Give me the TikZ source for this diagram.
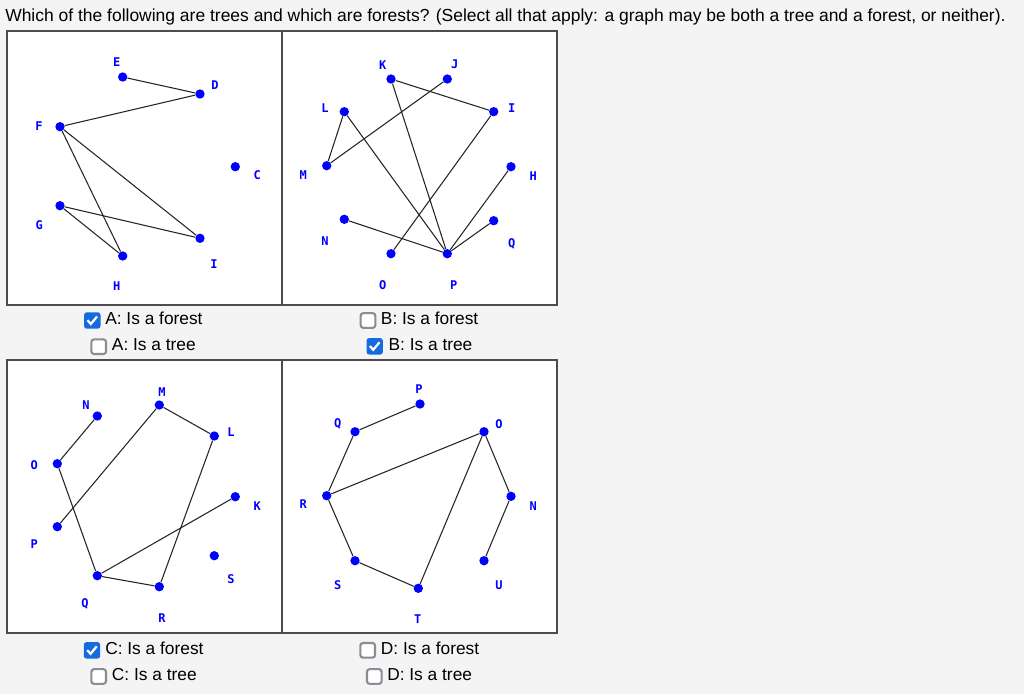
\documentclass[tikz,border=0pt]{standalone}
\usepackage{fontspec}
\setmainfont{Liberation Sans}
\newfontfamily\lblfont{DejaVu Sans Mono}
\definecolor{bg}{RGB}{244,244,244}
\definecolor{cbblue}{RGB}{22,106,224}
\definecolor{cbgray}{RGB}{140,140,150}
\begin{document}
\begin{tikzpicture}[x=0.75pt,y=-0.75pt,
  dot/.style={circle,fill=blue,inner sep=0pt,minimum size=7pt},
  lbl/.style={text=blue,font=\lblfont\bfseries\fontsize{9}{10}\selectfont,inner sep=0pt},
  edge/.style={draw=black!85,line width=0.8pt},
  panel/.style={draw=black!70,line width=1.3pt,fill=white},
  cbon/.style={rectangle,rounded corners=2pt,fill=cbblue,minimum size=12.3pt,inner sep=0pt},
  cboff/.style={rectangle,rounded corners=2pt,fill=white,draw=cbgray,line width=1.6pt,minimum size=11pt,inner sep=0pt},
  tick/.style={draw=white,line width=1.7pt},
  cbtext/.style={anchor=base west,inner sep=0pt,font=\fontsize{13}{15}\selectfont},
]
\fill[bg] (0,0) rectangle (1024,694);
\useasboundingbox (0,0) rectangle (1024,694);

\node[anchor=base west,inner sep=0pt,font=\fontsize{13.1}{15}\selectfont] (title) at (5,21)
  {Which of the following are trees and which are forests? (Select all that apply: a graph may be both a tree and a forest, or neither).};

% panels
\node[panel,minimum width=275*0.75pt,minimum height=274*0.75pt,inner sep=0pt,anchor=north west] (pA) at (6,30) {};
\node[panel,minimum width=275*0.75pt,minimum height=274*0.75pt,inner sep=0pt,anchor=north west] (pB) at (281,30) {};
\node[panel,minimum width=275*0.75pt,minimum height=273*0.75pt,inner sep=0pt,anchor=north west] (pC) at (6,359) {};
\node[panel,minimum width=275*0.75pt,minimum height=273*0.75pt,inner sep=0pt,anchor=north west] (pD) at (281,359) {};

% ---------- Panel A ----------
\node[dot] (aE) at (122.7,77) {};
\node[dot] (aD) at (200,94) {};
\node[dot] (aF) at (60,126.7) {};
\node[dot] (aC) at (235.3,166.7) {};
\node[dot] (aG) at (60,205.7) {};
\node[dot] (aI) at (200,238.3) {};
\node[dot] (aH) at (122.7,256) {};
\node[lbl] (laE) at (116.7,62.3) {E};
\node[lbl] (laD) at (215,85.3) {D};
\node[lbl] (laF) at (39,125.7) {F};
\node[lbl] (laC) at (257.3,175.3) {C};
\node[lbl] (laG) at (39.3,224.7) {G};
\node[lbl] (laI) at (214,264) {I};
\node[lbl] (laH) at (116.7,286.3) {H};
\draw[edge] (aE) -- (aD);
\draw[edge] (aD) -- (aF);
\draw[edge] (aF) -- (aH);
\draw[edge] (aF) -- (aI);
\draw[edge] (aG) -- (aI);
\draw[edge] (aG) -- (aH);

% ---------- Panel B ----------
\node[dot] (bK) at (391,79) {};
\node[dot] (bJ) at (447.3,79) {};
\node[dot] (bL) at (344.3,111.7) {};
\node[dot] (bI) at (493.7,111.7) {};
\node[dot] (bM) at (326.7,165.7) {};
\node[dot] (bH) at (511,166.7) {};
\node[dot] (bN) at (344.3,219.3) {};
\node[dot] (bQ) at (493.7,220.7) {};
\node[dot] (bO) at (391,253.7) {};
\node[dot] (bP) at (447.3,253.7) {};
\node[lbl] (lbK) at (382.7,64.7) {K};
\node[lbl] (lbJ) at (454.7,64.7) {J};
\node[lbl] (lbL) at (325,108) {L};
\node[lbl] (lbI) at (511.7,108) {I};
\node[lbl] (lbM) at (303.3,174.7) {M};
\node[lbl] (lbH) at (533.3,175.7) {H};
\node[lbl] (lbN) at (325,241.3) {N};
\node[lbl] (lbQ) at (511.7,243.7) {Q};
\node[lbl] (lbO) at (382.7,284.7) {O};
\node[lbl] (lbP) at (453.7,284.7) {P};
\draw[edge] (bK) -- (bI);
\draw[edge] (bK) -- (bP);
\draw[edge] (bJ) -- (bM);
\draw[edge] (bL) -- (bM);
\draw[edge] (bL) -- (bP);
\draw[edge] (bI) -- (bO);
\draw[edge] (bH) -- (bP);
\draw[edge] (bQ) -- (bP);
\draw[edge] (bN) -- (bP);

% ---------- Panel C ----------
\node[dot] (cM) at (159.3,405) {};
\node[dot] (cN) at (97.3,416) {};
\node[dot] (cL) at (214.3,436) {};
\node[dot] (cO) at (57.3,463.7) {};
\node[dot] (cK) at (235.3,496.7) {};
\node[dot] (cP) at (57.3,526.7) {};
\node[dot] (cS) at (214.3,555.7) {};
\node[dot] (cQ) at (97.3,575.7) {};
\node[dot] (cR) at (159.3,586.7) {};
\node[lbl] (lcM) at (162,391.7) {M};
\node[lbl] (lcN) at (86,405) {N};
\node[lbl] (lcL) at (231,432.3) {L};
\node[lbl] (lcO) at (34.3,465) {O};
\node[lbl] (lcK) at (257.3,505.7) {K};
\node[lbl] (lcP) at (34.3,544) {P};
\node[lbl] (lcS) at (231,579) {S};
\node[lbl] (lcQ) at (85,604.3) {Q};
\node[lbl] (lcR) at (162,618.3) {R};
\draw[edge] (cN) -- (cO);
\draw[edge] (cO) -- (cQ);
\draw[edge] (cQ) -- (cR);
\draw[edge] (cR) -- (cL);
\draw[edge] (cL) -- (cM);
\draw[edge] (cM) -- (cP);
\draw[edge] (cQ) -- (cK);

% ---------- Panel D ----------
\node[dot] (dP) at (420,404) {};
\node[dot] (dQ) at (355,431.7) {};
\node[dot] (dO) at (484,431.7) {};
\node[dot] (dR) at (326.7,495.7) {};
\node[dot] (dN) at (511,496.3) {};
\node[dot] (dS) at (355,560.7) {};
\node[dot] (dU) at (484,560.7) {};
\node[dot] (dT) at (418.3,588.3) {};
\node[lbl] (ldP) at (419,389) {P};
\node[lbl] (ldQ) at (337.7,424) {Q};
\node[lbl] (ldO) at (499,424) {O};
\node[lbl] (ldR) at (303.3,504.3) {R};
\node[lbl] (ldN) at (533.3,505.7) {N};
\node[lbl] (ldS) at (337.7,585) {S};
\node[lbl] (ldU) at (499,585) {U};
\node[lbl] (ldT) at (417.7,619.3) {T};
\draw[edge] (dP) -- (dQ);
\draw[edge] (dQ) -- (dR);
\draw[edge] (dR) -- (dO);
\draw[edge] (dO) -- (dT);
\draw[edge] (dT) -- (dS);
\draw[edge] (dS) -- (dR);
\draw[edge] (dO) -- (dN);
\draw[edge] (dN) -- (dU);

% ---------- Checkboxes ----------
\node[cbon] (cbA1) at (92.3,320.5) {};
\draw[tick] ([xshift=-3.6pt,yshift=0.2pt]cbA1.center) -- ([xshift=-1.1pt,yshift=-2.6pt]cbA1.center) -- ([xshift=3.6pt,yshift=3pt]cbA1.center);
\node[cbtext] (tA1) at (105,324.5) {A: Is a forest};
\node[cboff] (cbA2) at (98.7,346.7) {};
\node[cbtext] (tA2) at (111.7,350.8) {A: Is a tree};

\node[cboff] (cbB1) at (368,320.5) {};
\node[cbtext] (tB1) at (380.7,324.5) {B: Is a forest};
\node[cbon] (cbB2) at (374.7,346.3) {};
\draw[tick] ([xshift=-3.6pt,yshift=0.2pt]cbB2.center) -- ([xshift=-1.1pt,yshift=-2.6pt]cbB2.center) -- ([xshift=3.6pt,yshift=3pt]cbB2.center);
\node[cbtext] (tB2) at (388.3,350.8) {B: Is a tree};

\node[cbon] (cbC1) at (92,650.3) {};
\draw[tick] ([xshift=-3.6pt,yshift=0.2pt]cbC1.center) -- ([xshift=-1.1pt,yshift=-2.6pt]cbC1.center) -- ([xshift=3.6pt,yshift=3pt]cbC1.center);
\node[cbtext] (tC1) at (105,654.3) {C: Is a forest};
\node[cboff] (cbC2) at (98.7,676.5) {};
\node[cbtext] (tC2) at (111.7,680.7) {C: Is a tree};

\node[cboff] (cbD1) at (367.7,650.3) {};
\node[cbtext] (tD1) at (380.7,654.3) {D: Is a forest};
\node[cboff] (cbD2) at (374.3,676.5) {};
\node[cbtext] (tD2) at (387,680.7) {D: Is a tree};
\end{tikzpicture}
\end{document}
